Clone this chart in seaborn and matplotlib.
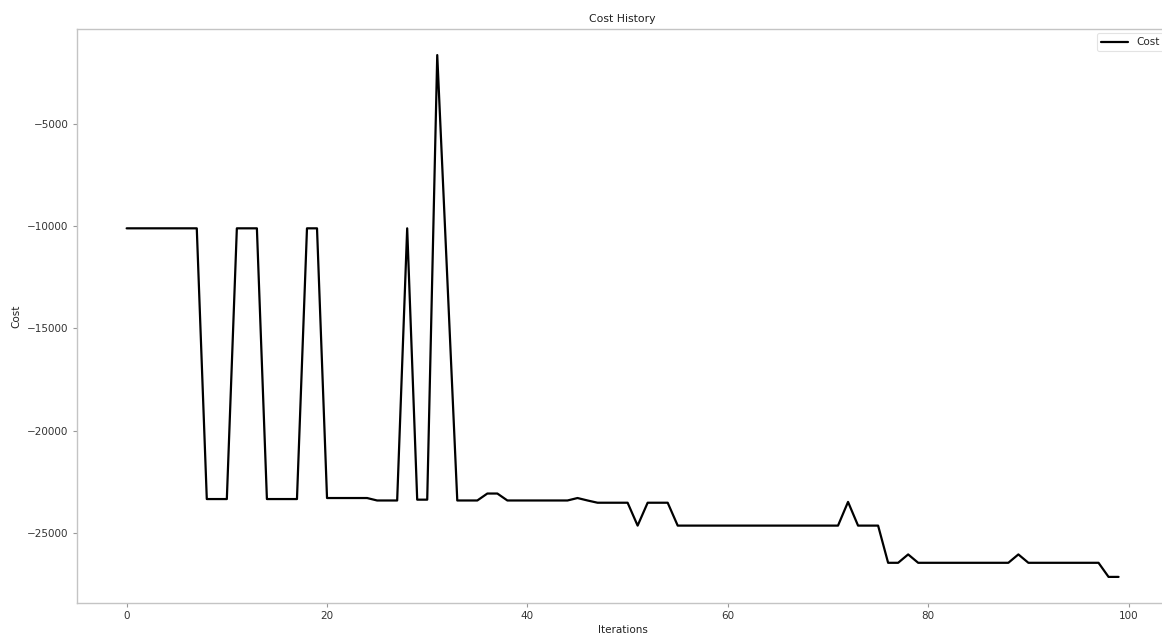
import numpy as np
import pandas as pd
import matplotlib
matplotlib.use("Agg")
import matplotlib.pyplot as plt
import seaborn as sns

# Cost recorded at each optimisation iteration
iterations = list(range(100))
cost = (
    [-10100] * 8                     # 0-7
    + [-23350] * 3                   # 8-10
    + [-10100] * 3                   # 11-13
    + [-23350] * 4                   # 14-17
    + [-10100] * 2                   # 18-19
    + [-23300] * 5                   # 20-24
    + [-23420] * 3                   # 25-27
    + [-10100]                       # 28
    + [-23380] * 2                   # 29-30
    + [-1620]                        # 31
    + [-12500]                       # 32
    + [-23420] * 3                   # 33-35
    + [-23080] * 2                   # 36-37
    + [-23420] * 7                   # 38-44
    + [-23300]                       # 45
    + [-23420]                       # 46
    + [-23530] * 4                   # 47-50
    + [-24650]                       # 51
    + [-23530] * 3                   # 52-54
    + [-24650] * 17                  # 55-71
    + [-23490]                       # 72
    + [-24650] * 3                   # 73-75
    + [-26470] * 2                   # 76-77
    + [-26060]                       # 78
    + [-26470] * 10                  # 79-88
    + [-26060]                       # 89
    + [-26470] * 8                   # 90-97
    + [-27160] * 2                   # 98-99
)

df = pd.DataFrame({"Iterations": iterations, "Cost": cost})

sns.set_style("ticks")
plt.rcParams["font.family"] = ["DejaVu Sans"]

fig = plt.figure(figsize=(11.62, 6.41), dpi=100)
ax = fig.add_axes([0.0663, 0.0593, 0.939, 0.8955])

sns.lineplot(data=df, x="Iterations", y="Cost", color="black",
             linewidth=1.6, label="Cost", ax=ax)

ax.set_title("Cost History", fontsize=7.8, color="#222222", pad=5)
ax.set_xlabel("Iterations", fontsize=7.5, color="#222222", labelpad=3)
ax.set_ylabel("Cost", fontsize=7.5, color="#222222", labelpad=4)

ax.set_xticks([0, 20, 40, 60, 80, 100])
ax.set_yticks([-25000, -20000, -15000, -10000, -5000])
ax.tick_params(axis="both", labelsize=7.5, colors="#333333",
               length=3, width=0.8, pad=3)
ax.tick_params(axis="both", color="#999999")

for side in ["left", "bottom", "top"]:
    ax.spines[side].set_visible(True)
    ax.spines[side].set_color("#c4c4c4")
    ax.spines[side].set_linewidth(1.0)
ax.spines["right"].set_visible(False)

leg = ax.legend(loc="upper right", fontsize=7.5, frameon=True,
                borderaxespad=0.4, handlelength=2.6)
leg.get_frame().set_edgecolor("#dddddd")
leg.get_frame().set_linewidth(0.8)

fig.savefig("out.png", dpi=100)
